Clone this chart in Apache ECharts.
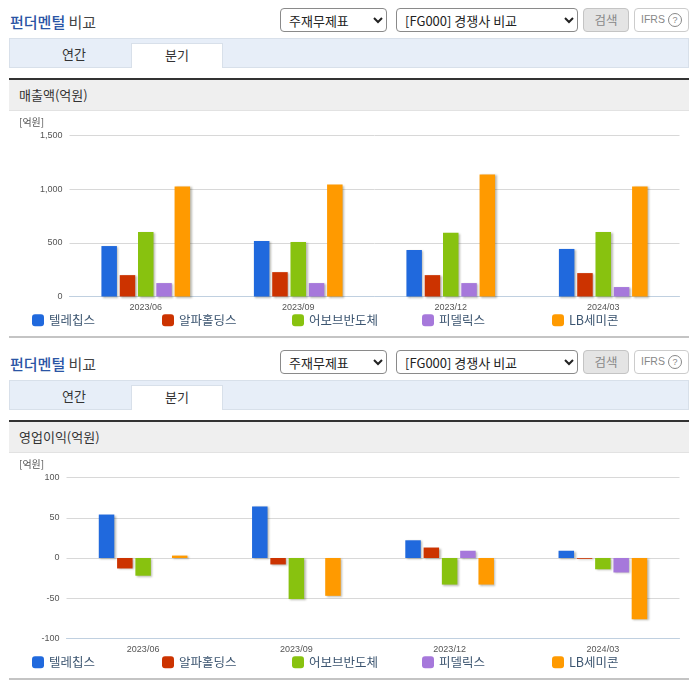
<!DOCTYPE html>
<html>
<head>
<meta charset="utf-8">
<script src="https://cdn.jsdelivr.net/npm/echarts@6/dist/echarts.min.js"></script>
<style>
  html, body { margin: 0; padding: 0; background: #fff; }
  body { width: 696px; height: 684px; position: relative; overflow: hidden; font-family: "Noto Sans CJK KR", sans-serif; color: #333; }
  .section { position: absolute; left: 0; width: 696px; height: 342px; }
  .title { position: absolute; left: 10px; top: 13px; font-size: 15px; line-height: 18px; font-weight: 400; color: #444; }
  .title b { color: #2a55a5; font-weight: 500; }
  select { position: absolute; top: 8px; height: 24px; padding: 0 0 0 4px; font-size: 13px; font-family: "Noto Sans CJK KR", sans-serif; color: #222; background: #fff; border: 1px solid #8a8a8a; border-radius: 4px; box-sizing: border-box; }
  .s1 { left: 280px; width: 107px; }
  .s2 { left: 396px; width: 182px; }
  .btn { position: absolute; top: 8px; height: 24px; box-sizing: border-box; border-radius: 4px; font-size: 12.5px; line-height: 21px; text-align: center; }
  .search { left: 583px; width: 46px; background: #e4e4e4; border: 1px solid #c4c4c4; color: #888; }
  .ifrs { left: 634px; width: 55px; background: #fff; border: 1px solid #ccc; color: #888; font-family: "Liberation Sans", sans-serif; font-size: 10.5px; }
  .ifrs i { display: inline-block; width: 12px; height: 12px; line-height: 12px; margin-left: 3px; border: 1px solid #888; border-radius: 50%; font-style: normal; font-size: 9px; }
  .tabs { position: absolute; left: 9px; top: 38px; width: 680px; height: 30px; box-sizing: border-box; background: #e7eef8; border: 1px solid #d8e0ea; }
  .tab { position: absolute; top: 43px; height: 25px; line-height: 22px; font-size: 13px; text-align: center; }
  .t1 { left: 9px; width: 130px; }
  .t2 { left: 131px; width: 92px; box-sizing: border-box; background: #fff; border: 1px solid #d8e0ea; border-bottom: none; }
  .head { position: absolute; left: 9px; top: 78px; width: 680px; height: 33px; box-sizing: border-box; background: #efefef; border-top: 2px solid #333; border-bottom: 1px solid #e2e2e2; padding-left: 10px; font-size: 13px; line-height: 30px; }
  .chart { position: absolute; left: 0; top: 110px; width: 696px; height: 226px; }
  .foot { position: absolute; left: 9px; top: 336px; width: 680px; height: 2px; background: #c4c4c4; }
</style>
</head>
<body>
<div class="section" style="top:0">
  <div class="title"><b>펀더멘털</b> 비교</div>
  <select class="s1"><option>주재무제표</option></select>
  <select class="s2"><option>[FG000] 경쟁사 비교</option></select>
  <div class="btn search">검색</div>
  <div class="btn ifrs">IFRS<i>?</i></div>
  <div class="tabs"></div>
  <div class="tab t1">연간</div>
  <div class="tab t2">분기</div>
  <div class="head">매출액(억원)</div>
  <div class="chart" id="salesChart"></div>
  <div class="foot"></div>
</div>
<div class="section" style="top:342px">
  <div class="title"><b>펀더멘털</b> 비교</div>
  <select class="s1"><option>주재무제표</option></select>
  <select class="s2"><option>[FG000] 경쟁사 비교</option></select>
  <div class="btn search">검색</div>
  <div class="btn ifrs">IFRS<i>?</i></div>
  <div class="tabs"></div>
  <div class="tab t1">연간</div>
  <div class="tab t2">분기</div>
  <div class="head">영업이익(억원)</div>
  <div class="chart" id="profitChart"></div>
  <div class="foot"></div>
</div>
<script>
const categories = ['2023/06', '2023/09', '2023/12', '2024/03']
const companies = ['텔레칩스', '알파홀딩스', '어보브반도체', '피델릭스', 'LB세미콘']
const colors = ['#2069dd', '#cc3300', '#88c20f', '#a678db', '#ff9a00']

// 매출액
const salesTelechips = [470, 517, 433, 443]
const salesAlpha = [199, 227, 199, 218]
const salesAbov = [600, 508, 593, 600]
const salesFidelix = [125, 125, 125, 88]
const salesLb = [1025, 1043, 1137, 1025]

// 영업이익
const profitTelechips = [54, 64, 22, 9]
const profitAlpha = [-13, -8, 13, -1]
const profitAbov = [-22, -51, -33, -14]
const profitFidelix = [null, null, 9, -18]
const profitLb = [3, -47, -33, -76]

const legendLefts = [32, 162, 292, 422, 552]

function drawChart(id, seriesData, axisMin, axisMax, step, gridLeft) {
  const chart = echarts.init(document.getElementById(id))
  const font = '"Liberation Sans", sans-serif'
  chart.setOption({
    animation: false,
    title: {
      text: '[억원]', left: 19, top: 7, padding: 0,
      textStyle: { fontSize: 10, fontWeight: 'normal', color: '#555', fontFamily: '"Noto Sans CJK KR", sans-serif' }
    },
    legend: companies.map((name, i) => ({
      data: [name], left: legendLefts[i], top: 204, padding: 0,
      itemWidth: 12, itemHeight: 12, itemGap: 6, icon: 'roundRect',
      textStyle: { fontSize: 12.5, color: '#3c5570', fontFamily: '"Noto Sans CJK KR", sans-serif' }
    })),
    grid: { left: gridLeft, right: 16.5, top: 25.5, height: 161 },
    xAxis: {
      type: 'category',
      data: categories,
      axisLine: { onZero: false, lineStyle: { color: '#c0d0e0' } },
      axisTick: { alignWithLabel: false, length: 5, lineStyle: { color: '#c0d0e0' } },
      axisLabel: { fontSize: 9, color: '#555', margin: 7, fontFamily: font }
    },
    yAxis: {
      type: 'value',
      min: axisMin, max: axisMax, interval: step,
      axisLine: { show: false },
      axisTick: { show: false },
      splitLine: { lineStyle: { color: '#d8d8d8' } },
      axisLabel: { fontSize: 9, color: '#555', margin: 7, padding: [4, 0, 0, 0], fontFamily: font, formatter: v => v.toLocaleString('en-US') }
    },
    series: companies.map((name, i) => ({
      name: name,
      type: 'bar',
      data: seriesData[i],
      barWidth: 15.5,
      barGap: '18%',
      itemStyle: {
        color: colors[i],
        shadowColor: 'rgba(60,60,40,0.35)', shadowBlur: 2, shadowOffsetX: 1.5, shadowOffsetY: 1
      }
    }))
  })
}

drawChart('salesChart', [salesTelechips, salesAlpha, salesAbov, salesFidelix, salesLb], 0, 1500, 500, 69.5)
drawChart('profitChart', [profitTelechips, profitAlpha, profitAbov, profitFidelix, profitLb], -100, 100, 50, 66.5)
</script>
</body>
</html>
